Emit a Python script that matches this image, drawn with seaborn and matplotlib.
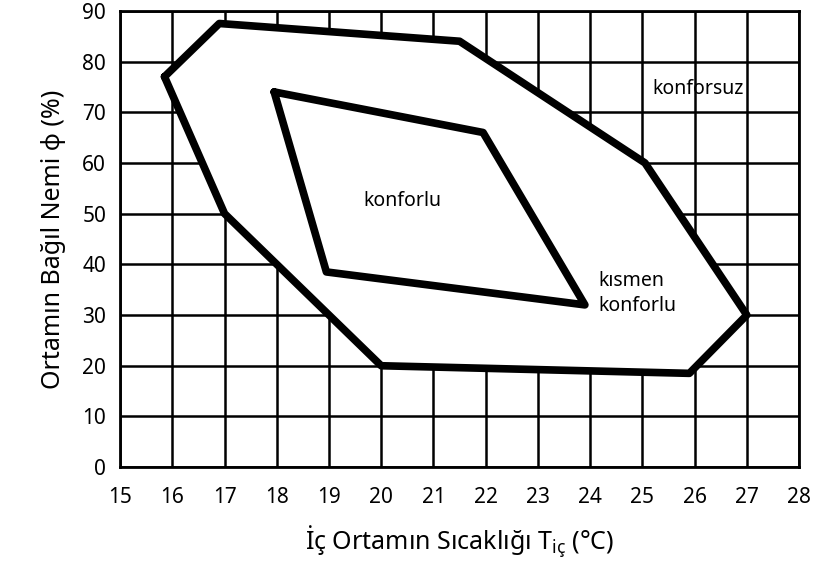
import seaborn as sns
import matplotlib.pyplot as plt
import pandas as pd

# Comfort zones (temperature °C, relative humidity %)
outer_t = [15.85, 16.9, 21.5, 25.05, 27.0, 25.9, 20.0, 17.0]
outer_rh = [77, 87.5, 84, 60, 30, 18.5, 20, 50]
inner_t = [17.95, 21.95, 23.9, 18.95]
inner_rh = [74, 66, 32, 38.5]

xticks = list(range(15, 29))
yticks = list(range(0, 91, 10))

labels = ["konforsuz", "konforlu", "kısmen\nkonforlu"]
label_t = [25.2, 20.4, 24.15]
label_rh = [74.5, 52.5, 34.3]

sns.set_theme(style="white")
plt.rcParams['font.family'] = ['Noto Sans', 'DejaVu Sans']

fig = plt.figure(figsize=(8.17, 5.69), dpi=100)
ax = fig.add_axes([0.147, 0.179, 0.831, 0.802])


def closed(xs, ys):
    return pd.DataFrame({"t": xs + xs[:1], "rh": ys + ys[:1]})


outer = closed(outer_t, outer_rh)
inner = closed(inner_t, inner_rh)

# white fill hides the grid inside the zones
ax.fill(outer["t"], outer["rh"], color="white", zorder=2)
sns.lineplot(data=outer, x="t", y="rh", sort=False, estimator=None,
             color="black", lw=5.5, ax=ax, zorder=3)
sns.lineplot(data=inner, x="t", y="rh", sort=False, estimator=None,
             color="black", lw=5.5, ax=ax, zorder=3)

for txt, t, rh in zip(labels, label_t, label_rh):
    ha = "center" if txt == "konforlu" else "left"
    ax.text(t, rh, txt, ha=ha, va="center", fontsize=14, color="black",
            linespacing=1.35, zorder=4)

ax.set_xlim(15, 28)
ax.set_ylim(0, 90)
ax.set_xticks(xticks)
ax.set_yticks(yticks)
ax.grid(True, color="black", lw=1.8)
ax.set_axisbelow(True)
for s in ax.spines.values():
    s.set_color("black")
    s.set_linewidth(2)
    s.set_zorder(5)
ax.tick_params(length=0, labelsize=15, colors="black")
ax.tick_params(axis="x", pad=14)
ax.tick_params(axis="y", pad=10)

ax.set_xlabel("İç Ortamın Sıcaklığı T$_\\mathregular{iç}$ (°C)", fontsize=18,
              color="black", labelpad=12)
ax.set_ylabel("Ortamın Bağıl Nemi φ (%)", fontsize=18, color="black",
              labelpad=12)

fig.savefig("out.png", dpi=100)
